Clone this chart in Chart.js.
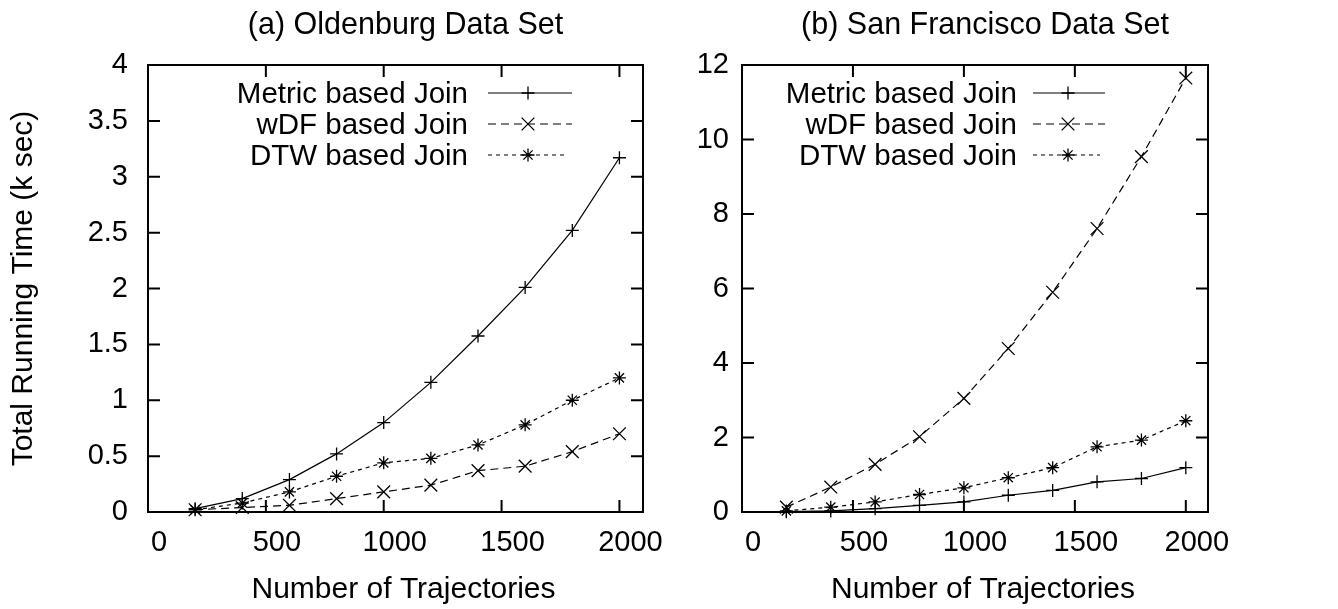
<!DOCTYPE html>
<html><head><meta charset="utf-8">
<script src="https://cdn.jsdelivr.net/npm/chart.js@4.4.0/dist/chart.umd.min.js"></script>
<style>
html,body{margin:0;padding:0;background:#fff;}
#wrap{position:relative;width:1338px;height:609px;overflow:hidden;background:#fff;}
#c1{position:absolute;left:0;top:0;width:690px;height:609px;}
#c2{position:absolute;left:690px;top:0;width:648px;height:609px;}
</style></head><body>
<div id="wrap"><div id="c1"><canvas id="a"></canvas></div><div id="c2"><canvas id="b"></canvas></div></div>
<script>
const trajectories = [200,400,600,800,1000,1200,1400,1600,1800,2000];
const xTicks = [0,500,1000,1500,2000];
const seriesNames = ['Metric based Join','wDF based Join','DTW based Join'];
const oldenburgMetric = [0.03,0.12,0.29,0.52,0.80,1.16,1.575,2.01,2.52,3.17];
const oldenburgWdf    = [0.02,0.04,0.06,0.12,0.18,0.24,0.37,0.41,0.54,0.70];
const oldenburgDtw    = [0.02,0.08,0.18,0.32,0.44,0.48,0.60,0.78,1.00,1.20];
const sfMetric = [0.01,0.03,0.09,0.18,0.27,0.45,0.58,0.81,0.90,1.19];
const sfWdf    = [0.13,0.67,1.28,2.02,3.05,4.39,5.90,7.61,9.54,11.65];
const sfDtw    = [0.03,0.13,0.27,0.47,0.65,0.92,1.19,1.75,1.93,2.45];
const oldenburgYTicks = [0,0.5,1,1.5,2,2.5,3,3.5,4];
const sfYTicks = [0,2,4,6,8,10,12];
const titles = ['(a) Oldenburg Data Set','(b) San Francisco Data Set'];
const xTitle = 'Number of Trajectories';
const yTitle = 'Total Running Time (k sec)';

const FONT = '"Liberation Sans", Arial, Helvetica, sans-serif';
const styles = [
  {dash: [], point: 'cross', r: 6.5},
  {dash: [8,5], point: 'crossRot', r: 9},
  {dash: [4,4], point: 'star', r: 6.5}
];

function makeDatasets(arrs){
  return arrs.map((vals,i)=>({
    label: seriesNames[i],
    data: trajectories.map((x,j)=>({x:x,y:vals[j]})),
    borderColor:'#000', backgroundColor:'#000',
    borderWidth:1.2, borderDash: styles[i].dash,
    pointStyle: styles[i].point, pointRadius: styles[i].r,
    pointBorderWidth:1.3, pointBorderColor:'#000',
    pointHoverRadius: styles[i].r,
    tension:0, fill:false, clip:false
  }));
}

function drawMarker(ctx, style, r, x, y){
  ctx.beginPath();
  if (style==='cross' || style==='star'){
    ctx.moveTo(x-r,y); ctx.lineTo(x+r,y); ctx.moveTo(x,y-r); ctx.lineTo(x,y+r);
  }
  if (style==='crossRot' || style==='star'){
    const d = r*Math.SQRT1_2;
    ctx.moveTo(x-d,y-d); ctx.lineTo(x+d,y+d); ctx.moveTo(x-d,y+d); ctx.lineTo(x+d,y-d);
  }
  ctx.stroke();
}

const framePlugin = {
  id:'gpFrame',
  afterDatasetsDraw(chart){
    const {ctx, chartArea:a, scales} = chart;
    const o = chart.options.plugins.gpFrame;
    ctx.save();
    ctx.strokeStyle='#000'; ctx.lineWidth=2; ctx.setLineDash([]);
    ctx.strokeRect(a.left, a.top, a.right-a.left, a.bottom-a.top);
    const L = 12;
    ctx.beginPath();
    scales.x.ticks.forEach(t=>{
      const px = scales.x.getPixelForValue(t.value);
      ctx.moveTo(px,a.bottom); ctx.lineTo(px,a.bottom-L);
      ctx.moveTo(px,a.top); ctx.lineTo(px,a.top+L);
    });
    scales.y.ticks.forEach(t=>{
      const py = scales.y.getPixelForValue(t.value);
      ctx.moveTo(a.left,py); ctx.lineTo(a.left+L,py);
      ctx.moveTo(a.right,py); ctx.lineTo(a.right-L,py);
    });
    ctx.stroke();

    const cx = (a.left + a.right)/2;
    ctx.fillStyle = '#000';
    ctx.textBaseline = 'alphabetic';
    // chart title
    ctx.font = '30.5px ' + FONT;
    ctx.textAlign = 'center';
    ctx.fillText(o.title, cx + o.titleShift, 34);
    // x axis title
    ctx.font = '30px ' + FONT;
    ctx.fillText(xTitle, cx + o.xTitleShift, 598);
    // y axis title
    if (o.yTitle){
      ctx.save();
      ctx.translate(32, (a.top + a.bottom)/2);
      ctx.rotate(-Math.PI/2);
      ctx.textAlign = 'center';
      ctx.fillText(yTitle, 0, 0);
      ctx.restore();
    }
    // legend
    const lg = o.legend;
    ctx.font = '29.5px ' + FONT;
    ctx.textAlign = 'right';
    chart.data.datasets.forEach((ds,i)=>{
      const y = a.top + lg.rows[i];
      ctx.fillText(ds.label, a.left + lg.textRight, y + 10);
      ctx.lineWidth = 1.2;
      ctx.setLineDash(ds.borderDash);
      ctx.beginPath();
      ctx.moveTo(a.left + lg.lineStart, y); ctx.lineTo(a.left + lg.lineEnd[i], y);
      ctx.stroke();
      ctx.setLineDash([]);
      ctx.lineWidth = 1.3;
      drawMarker(ctx, ds.pointStyle, ds.pointRadius, a.left + lg.marker, y);
    });
    ctx.restore();
  }
};

function makeChart(id, arrs, yMax, yTicks, title, cfg){
  return new Chart(document.getElementById(id), {
    type:'line',
    data:{datasets: makeDatasets(arrs)},
    options:{
      responsive:true, maintainAspectRatio:false, animation:false,
      events:[],
      layout:{padding:{left:0,right:cfg.padRight,top:65,bottom:0}},
      plugins:{
        legend:{display:false}, tooltip:{enabled:false}, title:{display:false},
        gpFrame: {title:title, titleShift:cfg.titleShift, xTitleShift:cfg.xTitleShift, yTitle:cfg.yTitle, legend:cfg.legend}
      },
      scales:{
        x:{type:'linear', min:0, max:2100,
           afterBuildTicks(s){ s.ticks = xTicks.map(v=>({value:v})); },
           afterFit(s){ s.height = 97; },
           grid:{display:false, drawTicks:false}, border:{display:false},
           ticks:{color:'#000', font:{family:FONT,size:29}, padding:14, maxRotation:0, autoSkip:false,
                  labelOffset:cfg.xLabelShift, callback:v=>String(v)}
        },
        y:{type:'linear', min:0, max:yMax,
           afterBuildTicks(s){ s.ticks = yTicks.map(v=>({value:v})); },
           afterFit(s){ s.width = cfg.yWidth; },
           grid:{display:false, drawTicks:false}, border:{display:false},
           ticks:{color:'#000', font:{family:FONT,size:29}, padding:cfg.yPad, autoSkip:false,
                  callback:v=>String(v)}
        }
      }
    },
    plugins:[framePlugin]
  });
}

makeChart('a', [oldenburgMetric, oldenburgWdf, oldenburgDtw], 4, oldenburgYTicks, titles[0], {
  padRight:47, yWidth:148, yPad:20, yTitle:true, titleShift:10, xTitleShift:8, xLabelShift:11,
  legend:{textRight:320, lineStart:340, lineEnd:[424,424,419], marker:380, rows:[28,59,90]}
});
makeChart('b', [sfMetric, sfWdf, sfDtw], 12, sfYTicks, titles[1], {
  padRight:130, yWidth:52, yPad:13, yTitle:false, titleShift:10, xTitleShift:8, xLabelShift:11,
  legend:{textRight:275, lineStart:291, lineEnd:[363,363,358], marker:326, rows:[28,59,90]}
});
</script>
</body></html>
